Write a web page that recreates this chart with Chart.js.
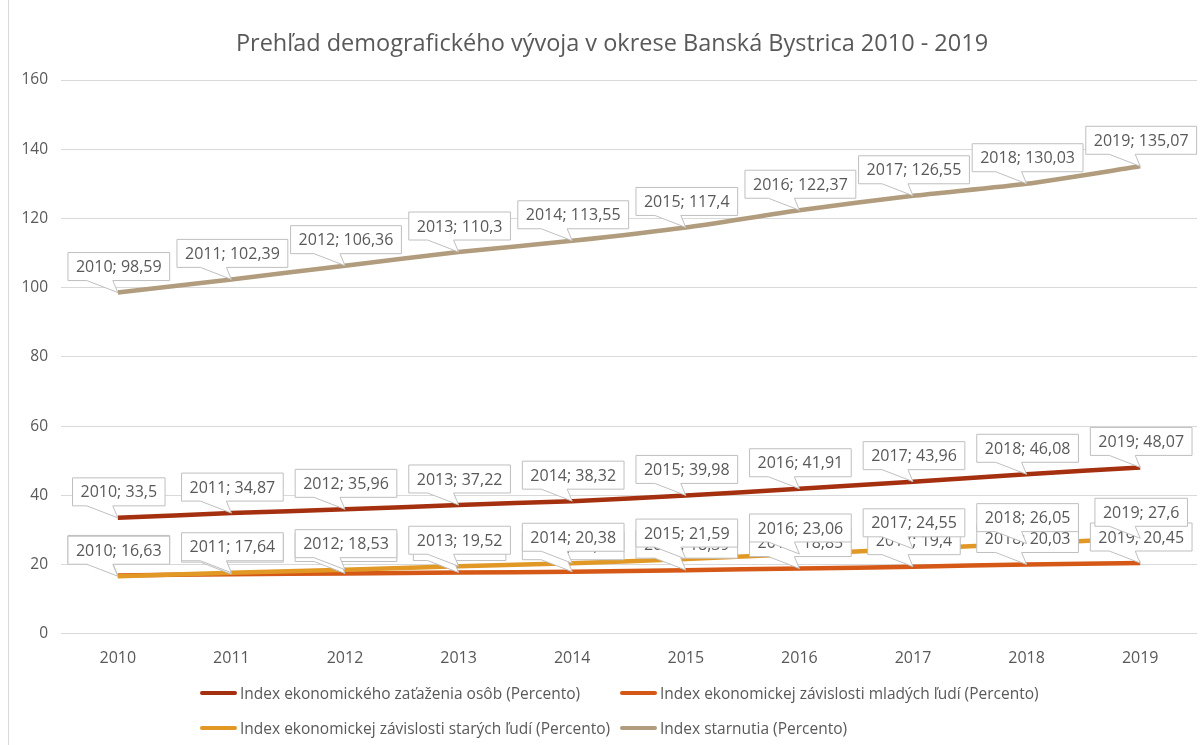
<!DOCTYPE html>
<html lang="sk">
<head>
  <meta charset="UTF-8">
  <title>Prehľad demografického vývoja</title>
  <script src="https://cdn.jsdelivr.net/npm/chart.js"></script>
  <style>
    body {
      margin: 0;
      background: #fff;
      font-family: 'Open Sans', sans-serif;
    }
    .wrap {
      position: relative;
      width: 1200px;
      height: 745px;
      overflow: hidden;
    }
    .frame {
      position: absolute;
      left: 8px;
      top: 0;
      width: 1192px;
      height: 745px;
      border-left: 1px solid #d9d9d9;
      pointer-events: none;
    }
    .title {
      position: absolute;
      left: 24px;
      width: 1176px;
      top: 28px;
      line-height: 28px;
      text-align: center;
      font-size: 23.5px;
      color: #595959;
    }
    .legend {
      position: absolute;
      left: 200px;
      top: 681px;
      display: grid;
      grid-template-columns: 420px 420px;
      row-gap: 12px;
      color: #595959;
      font-size: 15.5px;
    }
    .legend span {
      display: flex;
      align-items: center;
      white-space: nowrap;
      height: 23px;
    }
    .legend i {
      display: inline-block;
      width: 37px;
      height: 4px;
      border-radius: 2px;
      margin-right: 3px;
    }
  </style>
</head>
<body>
<div class="wrap">
  <canvas id="demoChart" width="1200" height="745"></canvas>
  <div class="frame"></div>
  <div class="title">Prehľad demografického vývoja v okrese Banská Bystrica 2010 - 2019</div>
  <div class="legend" id="legend"></div>
</div>

<script>
  // data
  const years = ['2010', '2011', '2012', '2013', '2014', '2015', '2016', '2017', '2018', '2019'];
  const totalLoad = [33.5, 34.87, 35.96, 37.22, 38.32, 39.98, 41.91, 43.96, 46.08, 48.07];
  const youngDep = [16.87, 17.23, 17.43, 17.70, 17.94, 18.39, 18.85, 19.4, 20.03, 20.45];
  const oldDep = [16.63, 17.64, 18.53, 19.52, 20.38, 21.59, 23.06, 24.55, 26.05, 27.6];
  const aging = [98.59, 102.39, 106.36, 110.3, 113.55, 117.4, 122.37, 126.55, 130.03, 135.07];

  const seriesNames = [
    'Index ekonomického zaťaženia osôb (Percento)',
    'Index ekonomickej závislosti mladých ľudí (Percento)',
    'Index ekonomickej závislosti starých ľudí (Percento)',
    'Index starnutia (Percento)'
  ];
  const seriesColors = ['#a5300f', '#d55816', '#e19825', '#b19c7d'];
  const seriesData = [totalLoad, youngDep, oldDep, aging];

  const textColor = '#595959';
  const font = "'Open Sans', sans-serif";

  // callout labels like the excel ones: "2010; 98,59"
  const calloutPlugin = {
    id: 'callouts',
    afterDatasetsDraw(chart) {
      const ctx = chart.ctx;
      ctx.save();
      ctx.font = '16px ' + font;
      ctx.textAlign = 'center';
      ctx.textBaseline = 'middle';
      chart.data.datasets.forEach((ds, di) => {
        const meta = chart.getDatasetMeta(di);
        meta.data.forEach((pt, i) => {
          const px = pt.x, py = pt.y;
          const txt = years[i] + '; ' + String(ds.data[i]).replace('.', ',');
          const w = ctx.measureText(txt).width + 16;
          const h = 28;
          const cx = px + 1;
          const L = cx - w / 2, R = cx + w / 2;
          const T = py - 40, B = T + h;
          ctx.beginPath();
          ctx.moveTo(L, T);
          ctx.lineTo(R, T);
          ctx.lineTo(R, B);
          ctx.lineTo(px - 5, B);
          ctx.lineTo(px, py);
          ctx.lineTo(px - 31, B);
          ctx.lineTo(L, B);
          ctx.closePath();
          ctx.fillStyle = '#fff';
          ctx.fill();
          ctx.lineWidth = 1;
          ctx.strokeStyle = '#bfbfbf';
          ctx.stroke();
          ctx.fillStyle = textColor;
          ctx.fillText(txt, cx, (T + B) / 2 + 1);
        });
      });
      ctx.restore();
    }
  };

  new Chart(document.getElementById('demoChart'), {
    type: 'line',
    data: {
      labels: years,
      datasets: seriesData.map((d, i) => ({
        label: seriesNames[i],
        data: d,
        borderColor: seriesColors[i],
        backgroundColor: seriesColors[i],
        borderWidth: 4.5,
        pointRadius: 0,
        tension: 0.2,
        order: 3 - i
      }))
    },
    options: {
      responsive: false,
      animation: false,
      layout: {
        padding: { left: 8, right: 3, top: 80, bottom: 70 }
      },
      plugins: {
        legend: { display: false },
        tooltip: { enabled: false },
        title: { display: false }
      },
      scales: {
        x: {
          offset: true,
          grid: { display: false },
          border: { display: false },
          ticks: { color: textColor, font: { family: font, size: 16 }, padding: 7 }
        },
        y: {
          min: 0,
          max: 160,
          ticks: { stepSize: 20, color: textColor, font: { family: font, size: 15.5 }, padding: 13 },
          grid: { color: '#d9d9d9', drawTicks: false },
          border: { display: false },
          afterFit(scale) { scale.width = 53; }
        }
      }
    },
    plugins: [calloutPlugin]
  });

  // legend as html, two columns like the original
  const legendEl = document.getElementById('legend');
  seriesNames.forEach((name, i) => {
    const item = document.createElement('span');
    item.innerHTML = '<i style="background:' + seriesColors[i] + '"></i>' + name;
    legendEl.appendChild(item);
  });
</script>
</body>
</html>
